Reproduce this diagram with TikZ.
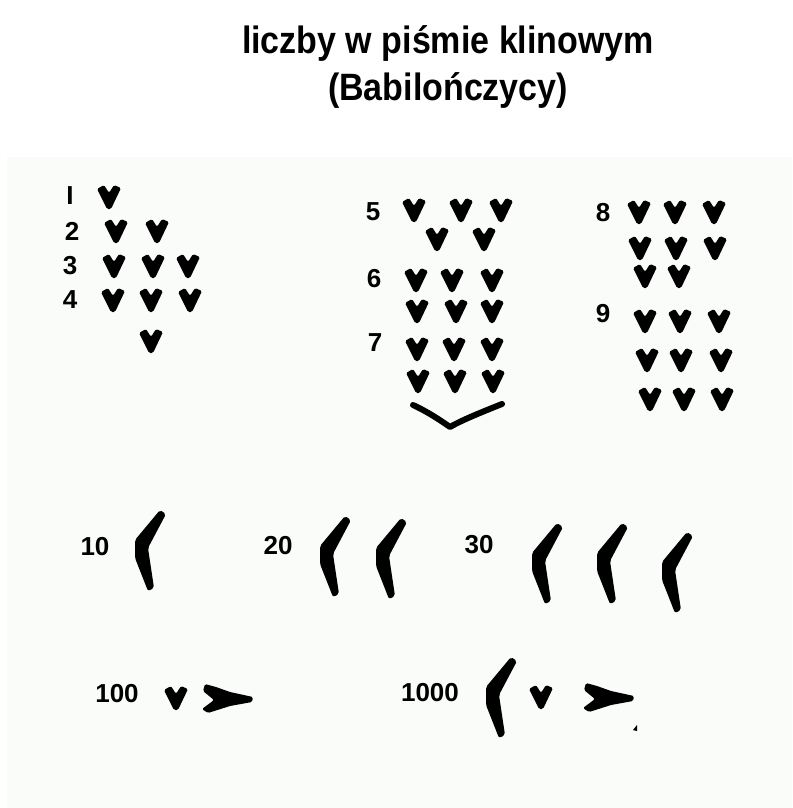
\documentclass[tikz,border=0pt]{standalone}
\usepackage{fontspec}
\setmainfont{Liberation Sans}
\definecolor{tabletbg}{RGB}{250,252,249}

\begin{document}
\begin{tikzpicture}[x=1pt, y=-1pt, every node/.style={font=\fontsize{26}{30}\selectfont\bfseries, inner sep=0pt},
    titletext/.style={anchor=base, font=\fontsize{34}{40}\selectfont\bfseries},
    vwedge/.pic={\fill[rounded corners=1.5pt] (-12,-8) -- (-5,-12) -- (0,-4) -- (5,-12) -- (12,-9) -- (2,12) -- (-2,12) -- cycle;},
    tenmark/.pic={\fill[rounded corners=2pt] (-1,0) -- (24,-30) -- (30,-26) -- (12,8) -- (18,48) -- (12,51) -- (-1,18) -- cycle;},
    hwedge/.pic={\fill[rounded corners=1.5pt] (3,-1) -- (14,2) -- (28,7) -- (51,12) -- (50,17) -- (28,21) -- (6,28) -- (0,24) -- (12,15) -- (1,6) -- cycle;}]
    \useasboundingbox (0,0) rectangle (792,808);
    \fill[tabletbg] (7,157) rectangle (792,808);

    \node[titletext] (title1) at (448,53) {\scalebox{1}[1.12]{liczby w piśmie klinowym}};
    \node[titletext] (title2) at (448,100) {\scalebox{1}[1.12]{(Babilończycy)}};

    % units
    \foreach \n/\x/\y in {I/70/196, 2/72/231, 3/70/266, 4/70/300, 5/373/212, 6/374/279, 7/375/343, 8/603/213, 9/603/314}
        \node (n\n) at (\x,\y) {\n};
    \foreach \x/\y in {109/197, 116/231, 157/231, 114/266, 153/266, 188/266, 113/300, 151/300, 190/300, 151/341,
        414/210, 461/210, 501/210, 437/239, 484/239, 416/280, 452/280, 492/280, 417/311, 456/311, 492/311,
        417/349, 454/349, 492/349, 418/381, 455/381, 493/381,
        639/212, 675/212, 714/212, 640/248, 676/248, 715/248, 645/276, 679/276,
        645/321, 680/321, 719/321, 647/360, 681/360, 721/360, 650/399, 684/399, 722/399}
        \pic at (\x,\y) {vwedge};
    \draw[line width=6pt, line cap=round, line join=round] (413,405) .. controls (428,412) and (440,420) .. (450,427) .. controls (462,420) and (482,412) .. (502,404);

    % tens
    \foreach \n/\x/\y in {10/95/547, 20/278/546, 30/479/545, 100/117/694, 1000/430/693}
        \node (n\n) at (\x,\y) {\n};
    \foreach \x/\y in {136/540, 321/546, 377/548, 533/553, 598/553, 663/562, 487/687}
        \pic at (\x,\y) {tenmark};

    % hundreds
    \pic at (176,698) {vwedge};
    \pic at (202,685) {hwedge};
    \pic at (541,697) {vwedge};
    \pic at (583,684) {hwedge};
    \fill (633,730) -- (637,725) -- (637,731) -- cycle;
\end{tikzpicture}
\end{document}
